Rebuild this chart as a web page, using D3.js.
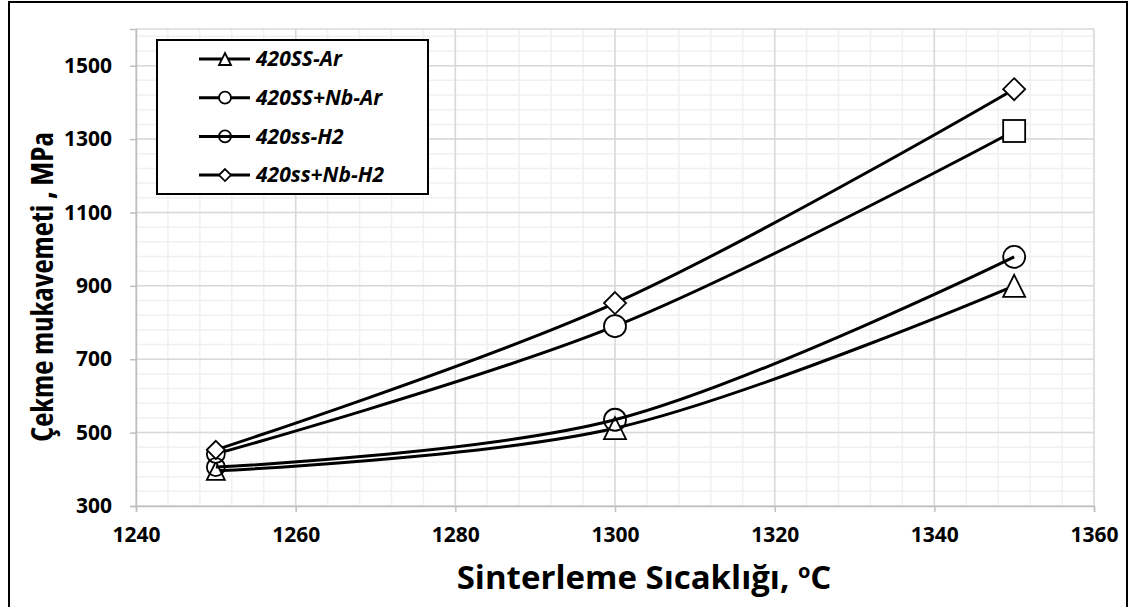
<!DOCTYPE html>
<html>
<head>
<meta charset="utf-8">
<script src="https://cdn.jsdelivr.net/npm/d3@7"></script>
<style>
  body { margin: 0; background: #fff; }
  svg text { font-family: "Open Sans", "DejaVu Sans", sans-serif; font-weight: bold; }
</style>
</head>
<body>
<div id="chart"></div>
<script>
// sintering temperatures (x) and tensile strength per series (y)
var temps = [1250, 1300, 1350];
var seriesNames = ["420SS-Ar", "420SS+Nb-Ar", "420ss-H2", "420ss+Nb-H2"];
var arValues = [396, 512, 900];
var nbArValues = [442, 790, 1322];
var h2Values = [406, 535, 979];
var nbH2Values = [453, 853, 1436];
// marker used for each point (the last Nb-Ar point is a square in the original)
var arMarkers = ["triangle", "triangle", "triangle"];
var nbArMarkers = ["circle", "circle", "square"];
var h2Markers = ["ring", "ring", "ring"];
var nbH2Markers = ["diamond", "diamond", "diamond"];
var xTicks = [1240, 1260, 1280, 1300, 1320, 1340, 1360];
var yTicks = [300, 500, 700, 900, 1100, 1300, 1500];

var W = 1129, H = 607;

var svg = d3.select("#chart").append("svg")
  .attr("width", W)
  .attr("height", H);

// outer frame
svg.append("rect")
  .attr("x", 9).attr("y", 2)
  .attr("width", 1118).attr("height", 640)
  .attr("fill", "#fff")
  .attr("stroke", "#000")
  .attr("stroke-width", 2);

var x = d3.scaleLinear().domain([1240, 1360]).range([136, 1094]);
var y = d3.scaleLinear().domain([300, 1600]).range([506, 29]);

// minor gridlines
var grid = svg.append("g");
grid.selectAll(".vminor")
  .data(d3.range(1240, 1361, 4))
  .enter().append("line")
  .attr("x1", d => x(d)).attr("x2", d => x(d))
  .attr("y1", y(300)).attr("y2", y(1600))
  .attr("stroke", "#f0f0f0").attr("stroke-width", 1.5);
grid.selectAll(".hminor")
  .data(d3.range(300, 1601, 40))
  .enter().append("line")
  .attr("x1", x(1240)).attr("x2", x(1360))
  .attr("y1", d => y(d)).attr("y2", d => y(d))
  .attr("stroke", "#f0f0f0").attr("stroke-width", 1.5);
// major gridlines
grid.selectAll(".vmajor")
  .data(xTicks)
  .enter().append("line")
  .attr("x1", d => x(d)).attr("x2", d => x(d))
  .attr("y1", y(300)).attr("y2", y(1600))
  .attr("stroke", "#d9d9d9").attr("stroke-width", 1.5);
grid.selectAll(".hmajor")
  .data(yTicks.concat([1600]))
  .enter().append("line")
  .attr("x1", x(1240)).attr("x2", x(1360))
  .attr("y1", d => y(d)).attr("y2", d => y(d))
  .attr("stroke", "#d9d9d9").attr("stroke-width", 1.5);

// axes
var xAxis = svg.append("g")
  .attr("transform", "translate(0," + y(300) + ")")
  .call(d3.axisBottom(x).tickValues(xTicks).tickSize(6).tickPadding(15).tickFormat(d3.format("d")));
var yAxis = svg.append("g")
  .attr("transform", "translate(" + x(1240) + ",0)")
  .call(d3.axisLeft(y).tickValues(yTicks).tickSize(6).tickPadding(18).tickFormat(d3.format("d")));
[xAxis, yAxis].forEach(function (a) {
  a.select(".domain").attr("stroke", "#bfbfbf").attr("stroke-width", 1.5);
  a.selectAll(".tick line").attr("stroke", "#bfbfbf").attr("stroke-width", 1.5);
  a.selectAll(".tick text").attr("fill", "#000")
    .style("font-size", "21px").style("font-stretch", "88%");
});

// axis titles
svg.append("text")
  .attr("x", 644).attr("y", 589)
  .attr("text-anchor", "middle")
  .style("font-size", "33px")
  .text("Sinterleme Sıcaklığı, ")
  .append("tspan").attr("font-size", "20px").attr("dy", -11).text("o")
  .select(function () { return this.parentNode; })
  .append("tspan").attr("dy", 11).text("C");

svg.append("text")
  .attr("transform", "translate(53,287) rotate(-90)")
  .attr("text-anchor", "middle")
  .style("font-size", "31px")
  .style("font-stretch", "80%")
  .text("Çekme mukavemeti , MPa");

// markers
function drawMarker(g, type, cx, cy, s) {
  var r = s / 2;
  if (type === "circle" || type === "ring") {
    g.append("circle").attr("cx", cx).attr("cy", cy).attr("r", r)
      .attr("fill", type === "ring" ? "none" : "#fff")
      .attr("stroke", "#000").attr("stroke-width", 1.8);
  } else if (type === "square") {
    g.append("rect").attr("x", cx - r).attr("y", cy - r).attr("width", s).attr("height", s)
      .attr("fill", "#fff").attr("stroke", "#000").attr("stroke-width", 1.8);
  } else if (type === "triangle") {
    g.append("path")
      .attr("d", "M" + cx + "," + (cy - r) + "L" + (cx + r) + "," + (cy + r) + "L" + (cx - r) + "," + (cy + r) + "Z")
      .attr("fill", "#fff").attr("stroke", "#000").attr("stroke-width", 1.8);
  } else if (type === "diamond") {
    g.append("path")
      .attr("d", "M" + cx + "," + (cy - r) + "L" + (cx + r) + "," + cy + "L" + cx + "," + (cy + r) + "L" + (cx - r) + "," + cy + "Z")
      .attr("fill", "#fff").attr("stroke", "#000").attr("stroke-width", 1.8);
  }
}

var series = [
  { name: seriesNames[0], values: arValues, markers: arMarkers },
  { name: seriesNames[1], values: nbArValues, markers: nbArMarkers },
  { name: seriesNames[2], values: h2Values, markers: h2Markers },
  { name: seriesNames[3], values: nbH2Values, markers: nbH2Markers }
];

var line = d3.line()
  .x(d => x(d.t))
  .y(d => y(d.v))
  .curve(d3.curveCatmullRom.alpha(0.5));

series.forEach(function (s) {
  var pts = temps.map((t, i) => ({ t: t, v: s.values[i], m: s.markers[i] }));
  var g = svg.append("g");
  g.append("path")
    .attr("d", line(pts))
    .attr("fill", "none")
    .attr("stroke", "#000")
    .attr("stroke-width", 3);
  pts.forEach(function (p, i) {
    drawMarker(g, p.m, x(p.t), y(p.v), i === 0 ? 18 : 22);
  });
});

// legend
var legend = svg.append("g");
legend.append("rect")
  .attr("x", 157).attr("y", 40)
  .attr("width", 271).attr("height", 154)
  .attr("fill", "#fff").attr("stroke", "#000").attr("stroke-width", 2);
var legendMarkers = ["triangle", "circle", "ring", "diamond"];
series.forEach(function (s, i) {
  var ly = 59 + i * 38.7;
  var g = legend.append("g");
  g.append("line").attr("x1", 199).attr("x2", 250).attr("y1", ly).attr("y2", ly)
    .attr("stroke", "#000").attr("stroke-width", 3);
  drawMarker(g, legendMarkers[i], 225, ly, 12);
  g.append("text")
    .attr("x", 256).attr("y", ly)
    .attr("dy", "0.35em")
    .style("font-size", "21px")
    .style("font-style", "italic")
    .text(s.name);
});
</script>
</body>
</html>
